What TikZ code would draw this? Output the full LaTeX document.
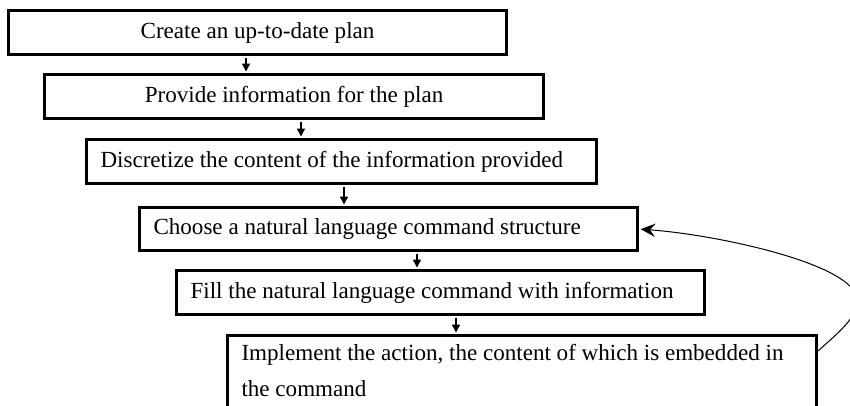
\documentclass[tikz,border=0pt]{standalone}
\usepackage{fontspec}
\setmainfont{Liberation Serif}
\usetikzlibrary{arrows.meta}
\begin{document}
\begin{tikzpicture}[x=0.75pt,y=-0.75pt,
  box/.style={draw, line width=2.3pt, anchor=north west, minimum height=33pt,
    font=\fontsize{17.3}{22}\selectfont, inner ysep=0pt},
  leftbox/.style={box, align=flush left, inner xsep=10.5pt},
  arr/.style={line width=1pt, -{Triangle[length=6pt,width=6pt]}, shorten >=1.1pt, shorten <=1.1pt},
  looparr/.style={line width=0.75pt, -{Stealth[length=11pt,width=10pt,inset=4pt]}, shorten >=1.2pt}]
\clip (0,0) rectangle (850,406);
\node[box, minimum width=373.5pt] (b1) at (7,9) {Create an up-to-date plan};
\node[box, minimum width=374.25pt] (b2) at (43,73) {Provide information for the plan};
\node[leftbox, text width=361.5pt] (b3) at (85,138) {Discretize the content of the information provided};
\node[leftbox, text width=352.5pt, minimum height=32.25pt] (b4) at (138,206) {Choose a natural language command structure};
\node[leftbox, text width=420.75pt, inner ysep=6.5pt, font=\fontsize{17.3}{27}\selectfont] (b6) at (226,334)
  {Implement the action, the content of which is embedded in\\the command\rule[-30pt]{0pt}{0pt}};
\node[leftbox, text width=375pt] (b5) at (175,269) {Fill the natural language command with information};
\path (246,0) coordinate (x1) (301,0) coordinate (x2) (344,0) coordinate (x3)
      (417,0) coordinate (x4) (456,0) coordinate (x5) (857,300) coordinate (m);
\draw[arr] (x1 |- b1.south) -- (x1 |- b2.north);
\draw[arr] (x2 |- b2.south) -- (x2 |- b3.north);
\draw[arr] (x3 |- b3.south) -- (x3 |- b4.north);
\draw[arr] (x4 |- b4.south) -- (x4 |- b5.north);
\draw[arr] (x5 |- b5.south) -- (x5 |- b6.north);
\draw[looparr] ([yshift=-12.75pt]b6.north east) .. controls (840,331) and (857,318) .. (m)
  .. controls (857,265) and (720,235) .. (b4.east);
\end{tikzpicture}
\end{document}
